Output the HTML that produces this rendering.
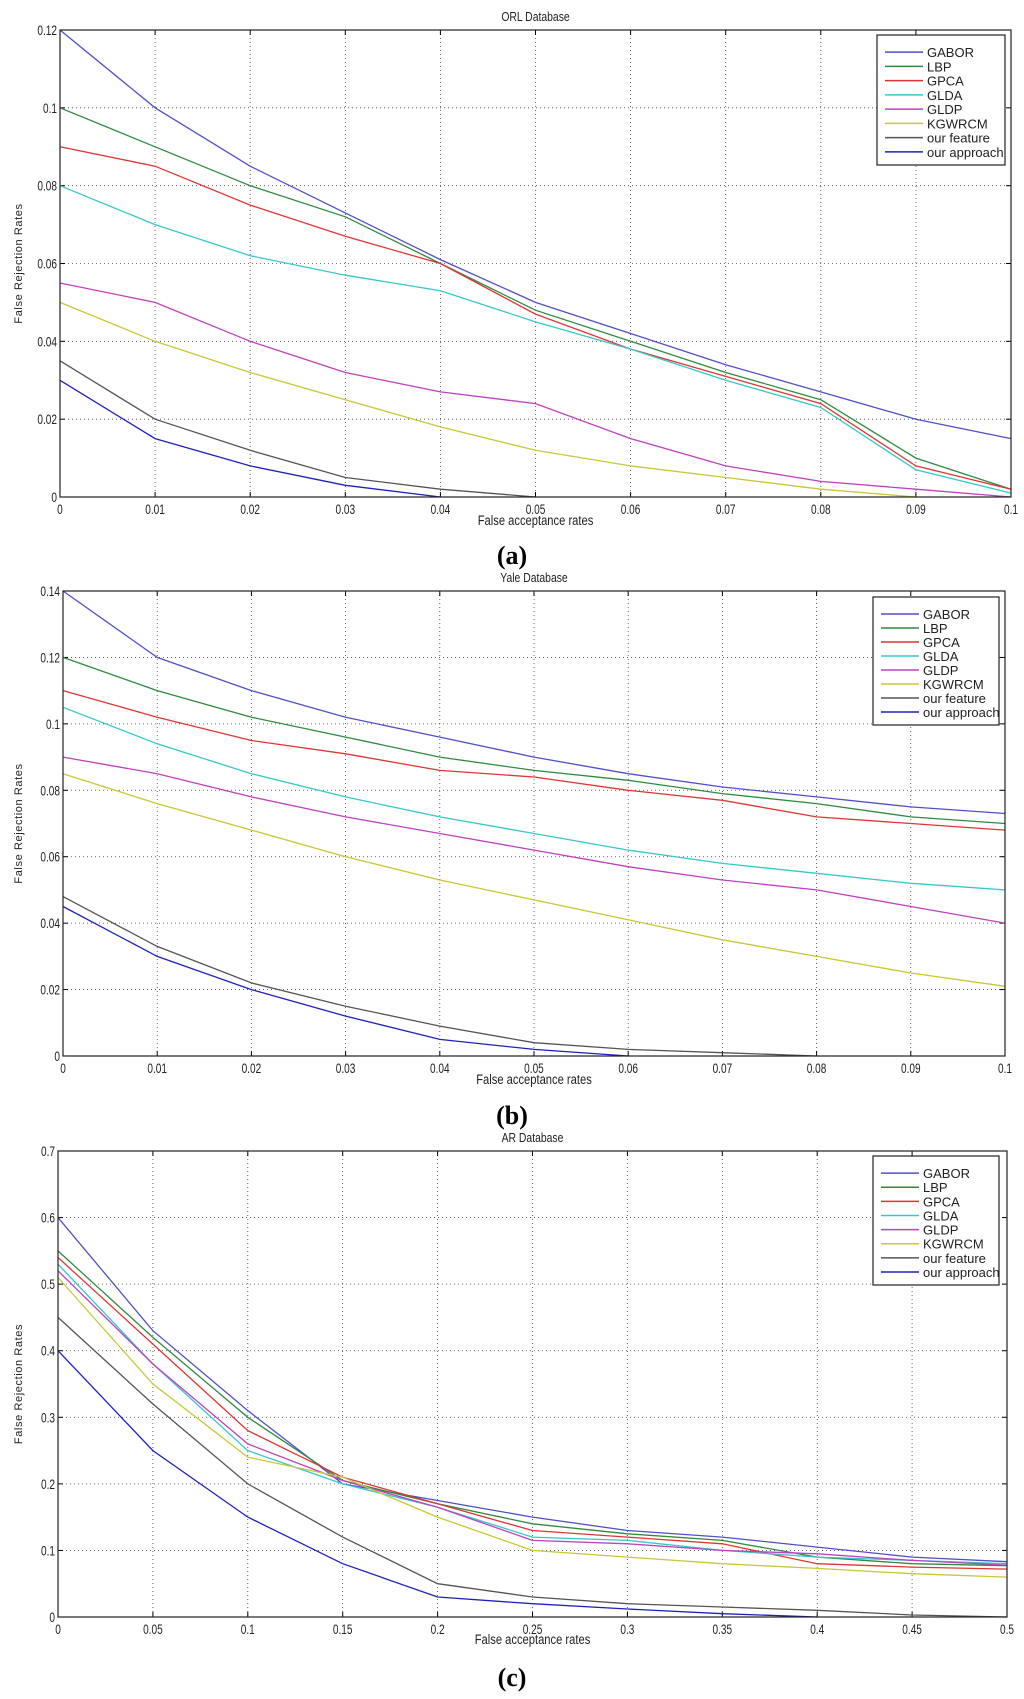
<!DOCTYPE html>
<html><head><meta charset="utf-8"><style>
body{margin:0;background:#fff;}
svg{display:block;font-family:"Liberation Sans",sans-serif;}
</style></head><body>
<svg id="fig" width="1024" height="1699" viewBox="0 0 1024 1699" xmlns="http://www.w3.org/2000/svg"></svg>
<script>
const seriesNames=["GABOR","LBP","GPCA","GLDA","GLDP","KGWRCM","our feature","our approach"];
const seriesColors=["#5050c8","#2e8b3e","#e03535","#35c8c8","#c040c0","#c8c835","#555555","#2020c0"];
// Chart (a) ORL
const orlX=[0,0.01,0.02,0.03,0.04,0.05,0.06,0.07,0.08,0.09,0.1];
const orlGABOR=[0.12,0.10,0.085,0.073,0.061,0.050,0.042,0.034,0.027,0.020,0.015];
const orlLBP=[0.10,0.09,0.08,0.072,0.060,0.048,0.040,0.032,0.025,0.010,0.002];
const orlGPCA=[0.09,0.085,0.075,0.067,0.060,0.047,0.038,0.031,0.024,0.008,0.002];
const orlGLDA=[0.08,0.07,0.062,0.057,0.053,0.045,0.038,0.030,0.023,0.007,0.001];
const orlGLDP=[0.055,0.05,0.04,0.032,0.027,0.024,0.015,0.008,0.004,0.002,0];
const orlKGWRCM=[0.05,0.04,0.032,0.025,0.018,0.012,0.008,0.005,0.002,0];
const orlFeature=[0.035,0.02,0.012,0.005,0.002,0];
const orlApproach=[0.03,0.015,0.008,0.003,0];
const orlXTicks=["0","0.01","0.02","0.03","0.04","0.05","0.06","0.07","0.08","0.09","0.1"];
const orlYTicks=["0","0.02","0.04","0.06","0.08","0.1","0.12"];
// Chart (b) Yale
const yaleX=[0,0.01,0.02,0.03,0.04,0.05,0.06,0.07,0.08,0.09,0.1];
const yaleGABOR=[0.14,0.12,0.11,0.102,0.096,0.09,0.085,0.081,0.078,0.075,0.073];
const yaleLBP=[0.12,0.11,0.102,0.096,0.09,0.086,0.083,0.079,0.076,0.072,0.070];
const yaleGPCA=[0.11,0.102,0.095,0.091,0.086,0.084,0.08,0.077,0.072,0.070,0.068];
const yaleGLDA=[0.105,0.094,0.085,0.078,0.072,0.067,0.062,0.058,0.055,0.052,0.050];
const yaleGLDP=[0.09,0.085,0.078,0.072,0.067,0.062,0.057,0.053,0.050,0.045,0.040];
const yaleKGWRCM=[0.085,0.076,0.068,0.060,0.053,0.047,0.041,0.035,0.030,0.025,0.021];
const yaleFeature=[0.048,0.033,0.022,0.015,0.009,0.004,0.002,0.001,0];
const yaleApproach=[0.045,0.030,0.020,0.012,0.005,0.002,0];
const yaleXTicks=["0","0.01","0.02","0.03","0.04","0.05","0.06","0.07","0.08","0.09","0.1"];
const yaleYTicks=["0","0.02","0.04","0.06","0.08","0.1","0.12","0.14"];
// Chart (c) AR
const arX=[0,0.05,0.1,0.15,0.2,0.25,0.3,0.35,0.4,0.45,0.5];
const arGABOR=[0.6,0.43,0.31,0.2,0.175,0.15,0.13,0.12,0.105,0.09,0.083];
const arLBP=[0.55,0.42,0.30,0.205,0.17,0.14,0.125,0.115,0.09,0.08,0.077];
const arGPCA=[0.54,0.41,0.28,0.21,0.17,0.13,0.12,0.11,0.08,0.075,0.072];
const arGLDA=[0.53,0.38,0.25,0.20,0.165,0.12,0.115,0.10,0.09,0.085,0.08];
const arGLDP=[0.52,0.38,0.26,0.205,0.165,0.115,0.11,0.10,0.095,0.085,0.078];
const arKGWRCM=[0.51,0.35,0.24,0.21,0.15,0.10,0.09,0.08,0.073,0.065,0.06];
const arFeature=[0.45,0.32,0.20,0.12,0.05,0.03,0.02,0.015,0.01,0.003,0];
const arApproach=[0.40,0.25,0.15,0.08,0.03,0.02,0.012,0.005,0];
const arXTicks=["0","0.05","0.1","0.15","0.2","0.25","0.3","0.35","0.4","0.45","0.5"];
const arYTicks=["0","0.1","0.2","0.3","0.4","0.5","0.6","0.7"];

const NS="http://www.w3.org/2000/svg";
const svg=document.getElementById('fig');
function mk(tag,attrs,parent){const e=document.createElementNS(NS,tag);for(const k in attrs)e.setAttribute(k,attrs[k]);(parent||svg).appendChild(e);return e;}

function drawChart(c){
  const g=mk('g',{});
  
  
  const {L,R,T,B,xMax,yMax}=c;
  const sx=v=>L+(v/xMax)*(R-L);
  const sy=v=>B-(v/yMax)*(B-T);
  mk('rect',{x:L,y:T,width:R-L,height:B-T,fill:'#fff',stroke:'none'},g);
  c.xTicks.forEach(t=>{const v=parseFloat(t);const x=sx(v);
    if(v>0&&v<xMax){const l=mk('line',{x1:x,x2:x,y1:T,y2:B,stroke:'#444','stroke-width':0.8,'stroke-dasharray':'1,3'},g);}
    mk('line',{x1:x,x2:x,y1:B,y2:B-5,stroke:'#000'},g);mk('line',{x1:x,x2:x,y1:T,y2:T+5,stroke:'#000'},g);
    const tx=mk('text',{x:x,y:B+17,'font-size':14,'text-anchor':'middle',fill:'#222',transform:`translate(${x},0) scale(0.72,1) translate(${-x},0)`},g);tx.textContent=t;
    
  });
  c.yTicks.forEach(t=>{const v=parseFloat(t);const y=sy(v);
    if(v>0&&v<yMax){const l=mk('line',{x1:L,x2:R,y1:y,y2:y,stroke:'#444','stroke-width':0.8,'stroke-dasharray':'1,3'},g);}
    mk('line',{x1:L,x2:L+5,y1:y,y2:y,stroke:'#000'},g);mk('line',{x1:R,x2:R-5,y1:y,y2:y,stroke:'#000'},g);
    const tx=mk('text',{x:L-3,y:y+5,'font-size':14,'text-anchor':'end',fill:'#222',transform:`translate(${L-3},0) scale(0.72,1) translate(${-(L-3)},0)`},g);tx.textContent=t;
    
  });
  c.series.forEach((s,i)=>{
    const pts=s.map((v,j)=>sx(c.x[j]).toFixed(1)+','+sy(v).toFixed(1)).join(' ');
    const p=mk('polyline',{points:pts,fill:'none',stroke:seriesColors[i],'stroke-width':1.3},g);
    
    
  });
  mk('rect',{x:L,y:T,width:R-L,height:B-T,fill:'none',stroke:'#222','stroke-width':1.2},g);
  const ti=mk('text',{x:(L+R)/2,y:c.titleY,'font-size':13,'text-anchor':'middle',fill:'#222',transform:`translate(${(L+R)/2},0) scale(0.8,1) translate(${-(L+R)/2},0)`},g);ti.textContent=c.title;
  
  const xl=mk('text',{x:(L+R)/2,y:c.xlabY,'font-size':14,'text-anchor':'middle',fill:'#222',transform:`translate(${(L+R)/2},0) scale(0.8,1) translate(${-(L+R)/2},0)`},g);xl.textContent='False acceptance rates';
  
  const ylx=22,yly=(T+B)/2;
  const yl=mk('text',{x:ylx,y:yly,'font-size':11,'text-anchor':'middle',fill:'#222',transform:`rotate(-90 ${ylx} ${yly})`,'letter-spacing':'0.6'},g);yl.textContent='False Rejection Rates';
  
  const cap=mk('text',{x:512,y:c.capY,'font-size':26,'font-weight':'bold','text-anchor':'middle',fill:'#000','font-family':'Liberation Serif, serif'},g);cap.textContent=c.cap;
  
  const lg=mk('g',{},g);
  
  mk('rect',{x:c.lx,y:c.ly,width:c.lw,height:c.lh,fill:'#fff',stroke:'#222','stroke-width':1.2},lg);
  const step=(c.lh-16)/8;
  seriesNames.forEach((n,i)=>{
    const y=c.ly+12+step*i+step/2-2;
    const ln=mk('line',{x1:c.lx+8,x2:c.lx+46,y1:y,y2:y,stroke:seriesColors[i],'stroke-width':1.5},lg);
    
    const tx=mk('text',{x:c.lx+50,y:y+5,'font-size':13,fill:'#222'},lg);tx.textContent=n;
    
  });
}
drawChart({id:'orl',title:'ORL Database',cap:'(a)',L:60,R:1011,T:30,B:497,xMax:0.1,yMax:0.12,titleY:21,xlabY:525,capY:564,
  x:orlX,series:[orlGABOR,orlLBP,orlGPCA,orlGLDA,orlGLDP,orlKGWRCM,orlFeature,orlApproach],xTicks:orlXTicks,yTicks:orlYTicks,lx:877,ly:35,lw:128,lh:130});
drawChart({id:'yale',title:'Yale Database',cap:'(b)',L:63,R:1005,T:591,B:1056,xMax:0.1,yMax:0.14,titleY:582,xlabY:1084,capY:1124,
  x:yaleX,series:[yaleGABOR,yaleLBP,yaleGPCA,yaleGLDA,yaleGLDP,yaleKGWRCM,yaleFeature,yaleApproach],xTicks:yaleXTicks,yTicks:yaleYTicks,lx:873,ly:597,lw:126,lh:128});
drawChart({id:'ar',title:'AR Database',cap:'(c)',L:58,R:1007,T:1151,B:1617,xMax:0.5,yMax:0.7,titleY:1142,xlabY:1644,capY:1686,
  x:arX,series:[arGABOR,arLBP,arGPCA,arGLDA,arGLDP,arKGWRCM,arFeature,arApproach],xTicks:arXTicks,yTicks:arYTicks,lx:873,ly:1156,lw:126,lh:129});
</script>
</body></html>
